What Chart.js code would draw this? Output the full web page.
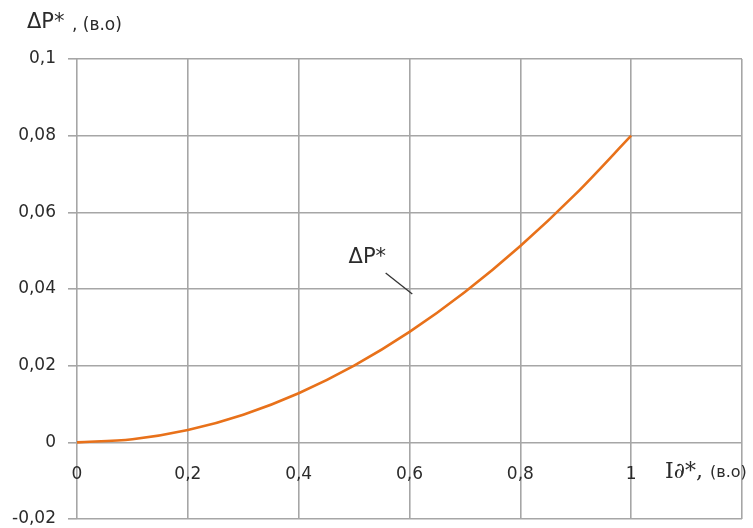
<!DOCTYPE html>
<html><head><meta charset="utf-8">
<script src="https://cdn.jsdelivr.net/npm/chart.js@4"></script>
<style>html,body{margin:0;padding:0;background:#fff;}#wrap{width:753px;height:528px;position:relative;}</style>
</head><body><div id="wrap"><canvas id="c" width="753" height="528"></canvas></div>
<script>
const xValues = [0, 0.1, 0.2, 0.3, 0.4, 0.5, 0.6, 0.7, 0.8, 0.9, 1.0];
const dPValues = [0, 0.0008, 0.0032, 0.0072, 0.0128, 0.02, 0.0288, 0.0392, 0.0512, 0.0648, 0.08];
const xTickLabels = ['0', '0,2', '0,4', '0,6', '0,8', '1', ''];
const yTickLabels = ['-0,02', '0', '0,02', '0,04', '0,06', '0,08', '0,1'];
const yAxisTitle = ['ΔP*', ', (в.о)'];
const xAxisTitle = ['I∂*,', '(в.о)'];
const seriesLabel = 'ΔP*';

const textPlugin = {
  id: 'texts',
  afterDraw(chart) {
    const ctx = chart.ctx, xs = chart.scales.x, ys = chart.scales.y;
    ctx.save();
    ctx.fillStyle = '#2b2b2b';
    ctx.textBaseline = 'alphabetic';
    ctx.textAlign = 'left';
    ctx.font = '21px "DejaVu Sans", sans-serif';
    ctx.fillText(yAxisTitle[0], 27, 28);
    ctx.font = '17px "DejaVu Sans", sans-serif';
    ctx.fillText(yAxisTitle[1], 72, 30);
    ctx.font = '22px "DejaVu Serif", serif';
    ctx.fillText(xAxisTitle[0], 665, 478);
    ctx.font = '16px "DejaVu Sans", sans-serif';
    ctx.fillText(xAxisTitle[1], 710, 477);
    // annotation
    ctx.font = '21px "DejaVu Sans", sans-serif';
    ctx.fillText(seriesLabel, xs.getPixelForValue(0.490), ys.getPixelForValue(0.0467));
    ctx.strokeStyle = '#333';
    ctx.lineWidth = 1.3;
    ctx.beginPath();
    ctx.moveTo(xs.getPixelForValue(0.557), ys.getPixelForValue(0.0442));
    ctx.lineTo(xs.getPixelForValue(0.605), ys.getPixelForValue(0.0387));
    ctx.stroke();
    ctx.restore();
  }
};

new Chart(document.getElementById('c'), {
  type: 'line',
  data: {
    datasets: [{
      label: seriesLabel,
      data: xValues.map((x, i) => ({x: x, y: dPValues[i]})),
      borderColor: '#E8711A',
      borderWidth: 2.6,
      pointRadius: 0,
      tension: 0.4,
      cubicInterpolationMode: 'monotone',
      fill: false
    }]
  },
  options: {
    responsive: false,
    animation: false,
    layout: {padding: {top: 59, right: 11, bottom: 9, left: 0}},
    plugins: {legend: {display: false}, tooltip: {enabled: false}},
    scales: {
      x: {
        type: 'linear',
        position: {y: 0},
        min: 0, max: 1.2,
        border: {display: false},
        afterFit(s) { s.paddingLeft = 0; s.paddingRight = 0; s.paddingTop = 0; s.paddingBottom = 0; },
        grid: {color: '#a6a6a6', lineWidth: 1.6, drawTicks: false},
        ticks: {
          stepSize: 0.2, padding: 22, maxRotation: 0,
          color: '#2b2b2b', font: {family: '"DejaVu Sans", sans-serif', size: 17},
          callback: (v, i) => xTickLabels[i]
        }
      },
      y: {
        type: 'linear',
        min: -0.02, max: 0.1,
        border: {display: false},
        afterFit(s) { s.width = 77; s.paddingTop = 0; s.paddingBottom = 0; },
        grid: {color: '#a6a6a6', lineWidth: 1.6, tickLength: 9},
        ticks: {
          stepSize: 0.02, padding: 12,
          color: '#2b2b2b', font: {family: '"DejaVu Sans", sans-serif', size: 17},
          callback: (v, i) => yTickLabels[i]
        }
      }
    }
  },
  plugins: [textPlugin]
});
</script></body></html>
